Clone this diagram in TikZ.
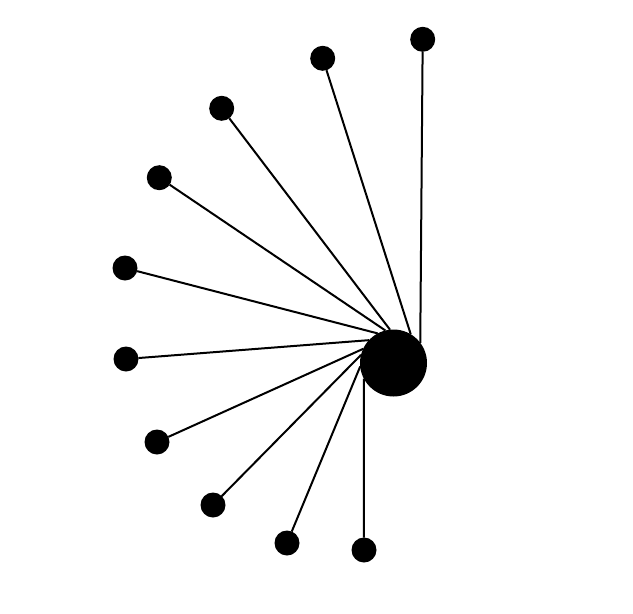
\documentclass[tikz,border=0pt]{standalone}
\begin{document}
\begin{tikzpicture}[x=1pt,y=-1pt,
  hub/.style={circle,fill=black,inner sep=0pt,outer sep=0pt,minimum size=67pt},
  leaf/.style={circle,fill=black,inner sep=0pt,outer sep=0pt,minimum size=25pt},
  spoke/.style={line width=2pt,black}]
\useasboundingbox (0,0) rectangle (633,614);
\node[hub] (c) at (393.5,363) {};
\node[leaf] (n1) at (422.7,39.3) {};
\node[leaf] (n2) at (322.7,58.3) {};
\node[leaf] (n3) at (221.7,108.3) {};
\node[leaf] (n4) at (159.3,177.7) {};
\node[leaf] (n5) at (125,268) {};
\node[leaf] (n6) at (126,359) {};
\node[leaf] (n7) at (157,442) {};
\node[leaf] (n8) at (213,505) {};
\node[leaf] (n9) at (287,543) {};
\node[leaf] (n10) at (364,550) {};
\begin{scope}[on background layer/.try]
\end{scope}
\draw[spoke] (n1) -- (c.37.7);
\draw[spoke] (n2) -- (c.59);
\draw[spoke] (n3) -- (c.96);
\draw[spoke] (n4) -- (c.104);
\draw[spoke] (n5) -- (c.118);
\draw[spoke] (n6) -- (c.137);
\draw[spoke] (n7) -- (c.155);
\draw[spoke] (n8) -- (c.166);
\draw[spoke] (n9) -- (c.186);
\draw[spoke] (n10) -- (c.208);
\end{tikzpicture}
\end{document}
